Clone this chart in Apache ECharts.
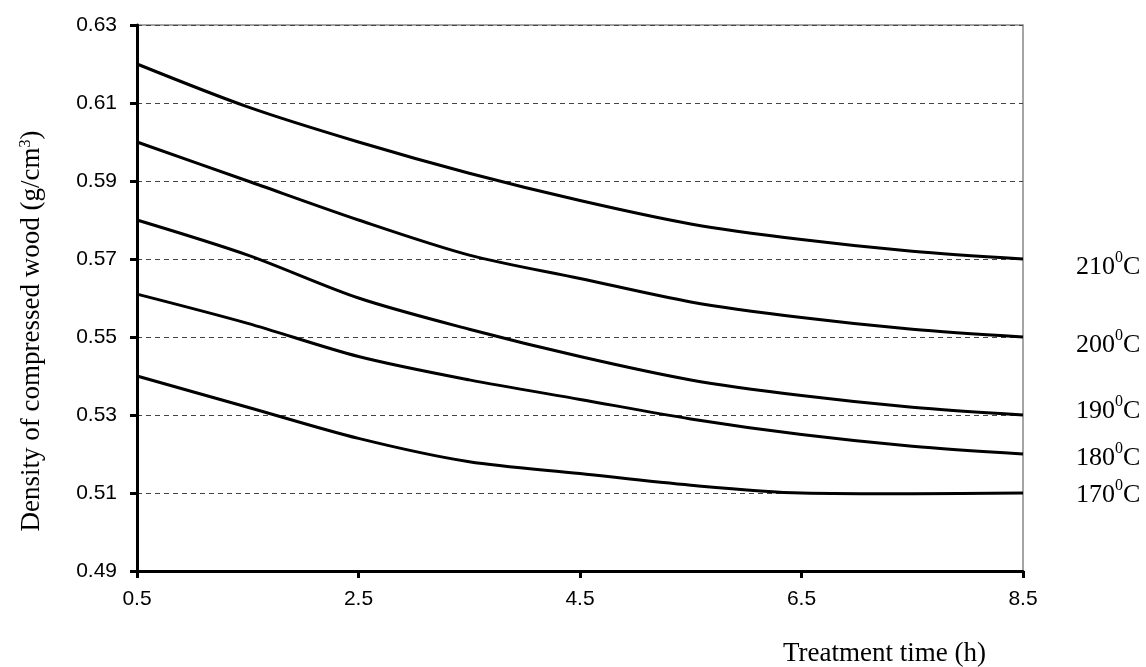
<!DOCTYPE html>
<html>
<head>
<meta charset="utf-8">
<script src="https://cdn.jsdelivr.net/npm/echarts@6/dist/echarts.min.js"></script>
<style>html,body{margin:0;padding:0;background:#fff;}#c{width:1146px;height:667px;}</style>
</head>
<body>
<div id="c"></div>
<script>
const times = [0.5, 1.5, 2.5, 3.5, 4.5, 5.5, 6.5, 7.5, 8.5];
const xTicks = [0.5, 2.5, 4.5, 6.5, 8.5];
const yTicks = [0.49, 0.51, 0.53, 0.55, 0.57, 0.59, 0.61, 0.63];
const seriesNames = ['210', '200', '190', '180', '170'];
const d210 = [0.620, 0.609, 0.600, 0.592, 0.585, 0.579, 0.575, 0.572, 0.570];
const d200 = [0.600, 0.590, 0.580, 0.571, 0.565, 0.559, 0.555, 0.552, 0.550];
const d190 = [0.580, 0.571, 0.560, 0.552, 0.545, 0.539, 0.535, 0.532, 0.530];
const d180 = [0.561, 0.5535, 0.545, 0.539, 0.534, 0.529, 0.525, 0.522, 0.520];
const d170 = [0.540, 0.532, 0.524, 0.518, 0.515, 0.512, 0.510, 0.5098, 0.510];
const allData = [d210, d200, d190, d180, d170];
const labelOffsets = [[45, 6], [45, 6], [45, -6], [45, 2], [45, 0]];

const serif = '"Liberation Serif", "Times New Roman", serif';
const sans = '"Liberation Sans", Arial, sans-serif';

const chart = echarts.init(document.getElementById('c'), null, {renderer: 'canvas'});
const series = allData.map((arr, i) => ({
  type: 'line',
  name: seriesNames[i],
  data: times.map((t, j) => [t, arr[j]]),
  smooth: 0.3,
  showSymbol: false,
  lineStyle: {color: '#000', width: 3},
  itemStyle: {color: '#000'},
  z: 5,
  endLabel: {
    show: true,
    offset: labelOffsets[i],
    formatter: () => '{b|' + seriesNames[i] + '}{s|0}{b|C}',
    rich: {
      b: {fontFamily: serif, fontSize: 26, color: '#000', verticalAlign: 'bottom', lineHeight: 30},
      s: {fontFamily: serif, fontSize: 16, color: '#000', verticalAlign: 'top', lineHeight: 30, padding: [0, 0, 12, 0]}
    }
  }
}));

chart.setOption({
  animation: false,
  backgroundColor: '#fff',
  grid: {left: 137, right: 123, top: 25, bottom: 96, show: true, borderColor: '#888', borderWidth: 1.5, backgroundColor: 'transparent'},
  graphic: [{
    type: 'text', left: 783, top: 640, z: 10,
    style: {text: 'Treatment time (h)', font: '27px ' + serif, fill: '#000'}
  }],
  xAxis: {
    type: 'value', min: xTicks[0], max: xTicks[xTicks.length - 1], interval: 2,
    axisLine: {show: true, lineStyle: {color: '#000', width: 3}},
    axisTick: {show: true, length: 7, lineStyle: {color: '#000', width: 3}},
    splitLine: {show: false},
    axisLabel: {color: '#000', fontFamily: sans, fontSize: 21, margin: 18, formatter: v => v.toFixed(1)}
  },
  yAxis: {
    type: 'value', min: yTicks[0], max: yTicks[yTicks.length - 1], interval: 0.02,
    axisLine: {show: true, lineStyle: {color: '#000', width: 3}},
    axisTick: {show: true, length: 7, lineStyle: {color: '#000', width: 3}},
    splitLine: {show: true, lineStyle: {color: '#444', width: 1, type: [5, 4]}},
    axisLabel: {color: '#000', fontFamily: sans, fontSize: 21, margin: 20, formatter: v => v.toFixed(2)},
    name: 'Density of compressed wood (g/cm{s|3})',
    nameLocation: 'middle',
    nameRotate: 90,
    nameGap: 92,
    nameTextStyle: {
      fontFamily: serif, fontSize: 27, color: '#000', padding: [0, 66, 0, 0],
      rich: {s: {fontFamily: serif, fontSize: 16, color: '#000', verticalAlign: 'top', padding: [0, 0, 10, 0]}}
    }
  },
  series: series
});
</script>
</body>
</html>
